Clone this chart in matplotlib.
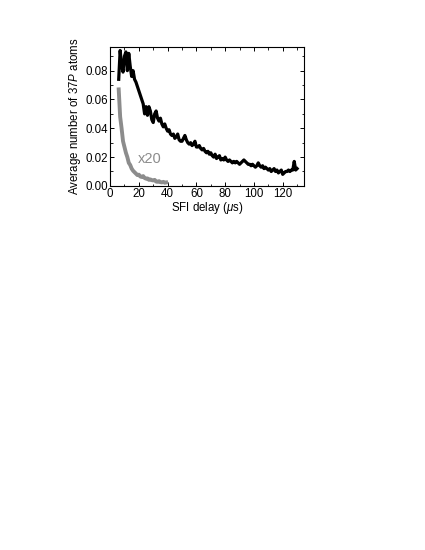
import matplotlib
matplotlib.use("Agg")
import matplotlib.pyplot as plt
from matplotlib.ticker import MultipleLocator, FormatStrFormatter

plt.rcParams['font.family'] = ['Liberation Sans', 'DejaVu Sans']
plt.rcParams['mathtext.fontset'] = 'custom'
plt.rcParams['mathtext.rm'] = 'Liberation Sans'
plt.rcParams['mathtext.it'] = 'Liberation Sans:italic'

# SFI delay (us) and average number of 37P atoms
delay_black = list(range(6, 131))
atoms_black = [
    0.074, 0.094, 0.084, 0.079, 0.090, 0.093, 0.080, 0.092, 0.083, 0.076,
    0.080, 0.074, 0.072, 0.069, 0.066, 0.063, 0.060, 0.057, 0.050, 0.055,
    0.049, 0.055, 0.052, 0.046, 0.044, 0.050, 0.052, 0.047, 0.045, 0.047,
    0.043, 0.041, 0.043, 0.040, 0.038, 0.039, 0.036, 0.035, 0.036, 0.033,
    0.034, 0.036, 0.032, 0.031, 0.031, 0.033, 0.035, 0.032, 0.030, 0.029,
    0.030, 0.028, 0.029, 0.031, 0.027, 0.027, 0.028, 0.026, 0.025, 0.026,
    0.024, 0.023, 0.024, 0.022, 0.023, 0.021, 0.020, 0.022, 0.019, 0.020,
    0.021, 0.018, 0.019, 0.018, 0.020, 0.018, 0.017, 0.018, 0.017, 0.016,
    0.017, 0.016, 0.017, 0.016, 0.015, 0.016, 0.017, 0.018, 0.017, 0.016,
    0.015, 0.015, 0.014, 0.015, 0.014, 0.013, 0.014, 0.016, 0.014, 0.013,
    0.014, 0.012, 0.013, 0.012, 0.011, 0.012, 0.010, 0.011, 0.012, 0.010,
    0.011, 0.009, 0.010, 0.011, 0.008, 0.009, 0.010, 0.010, 0.011, 0.010,
    0.011, 0.011, 0.017, 0.011, 0.012,
]

# Gray curve: x20 scaled data
delay_gray = list(range(6, 40))
atoms_gray = [
    0.067, 0.048, 0.040, 0.031, 0.027, 0.023, 0.020, 0.016, 0.0145, 0.012,
    0.0105, 0.0095, 0.0085, 0.0075, 0.0078, 0.0065, 0.0062, 0.0068, 0.0055, 0.005,
    0.0052, 0.0042, 0.0045, 0.004, 0.0038, 0.0042, 0.003, 0.0028, 0.0033, 0.0026,
    0.0024, 0.0028, 0.0022, 0.0024,
]

xticks = [0, 20, 40, 60, 80, 100, 120]
yticks = [0.00, 0.02, 0.04, 0.06, 0.08]

fig = plt.figure(figsize=(4.25, 5.5), dpi=100)
ax = fig.add_axes([0.259, 0.662, 0.457, 0.253])

ax.plot(delay_gray, atoms_gray, color='#8c8c8c', lw=2.8, solid_joinstyle='round')
ax.plot(delay_black, atoms_black, color='black', lw=2.3, solid_joinstyle='round')

ax.text(19.5, 0.0186, 'x20', color='#8c8c8c', fontsize=10.5, va='center', ha='left')

ax.set_xlim(0, 135)
ax.set_ylim(0, 0.0966)
ax.set_xticks(xticks)
ax.set_yticks(yticks)
ax.yaxis.set_major_formatter(FormatStrFormatter('%.2f'))
ax.xaxis.set_minor_locator(MultipleLocator(10))
ax.yaxis.set_minor_locator(MultipleLocator(0.01))
ax.tick_params(which='both', direction='in', top=True, right=True, labelsize=8.3, pad=1.5)
ax.tick_params(which='major', length=3, width=0.7)
ax.tick_params(which='minor', length=1.8, width=0.6)
for s in ax.spines.values():
    s.set_linewidth(0.8)

ax.set_xlabel(r'SFI delay ($\mu$s)', fontsize=8.3, labelpad=0)
ax.set_ylabel(r'Average number of 37$\mathit{P}$ atoms', fontsize=8.3, labelpad=2)

fig.savefig('out.png', dpi=100)
